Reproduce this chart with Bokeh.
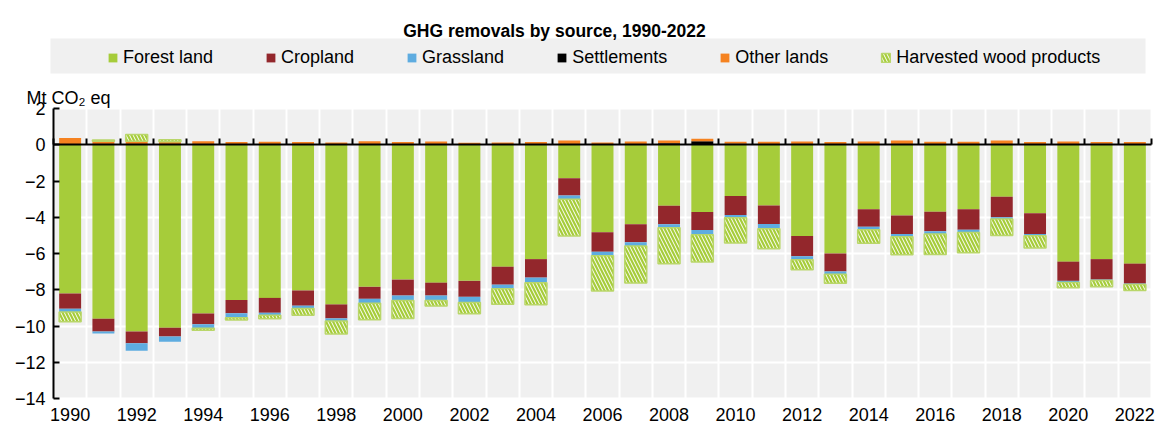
from bokeh.plotting import figure
from bokeh.models import (ColumnDataSource, Range1d, FixedTicker, LinearAxis, Grid,
                          Legend, LegendItem, Label, BoxAnnotation)
from bokeh.embed import file_html
from bokeh.resources import INLINE

years = list(range(1990, 2023))
forest = [-8.21, -9.60, -10.31, -10.09, -9.31, -8.57, -8.45, -8.04, -8.81, -7.84,
          -7.44, -7.61, -7.51, -6.73, -6.31, -1.85, -4.83, -4.39, -3.36, -3.71,
          -2.83, -3.35, -5.03, -6.00, -3.56, -3.91, -3.69, -3.56, -2.87, -3.78,
          -6.45, -6.31, -6.56]
cropland = [-0.84, -0.71, -0.64, -0.49, -0.60, -0.73, -0.82, -0.84, -0.77, -0.66,
            -0.88, -0.71, -0.88, -0.99, -1.02, -0.95, -1.08, -0.99, -1.02, -0.99,
            -1.04, -1.02, -1.12, -0.99, -0.97, -1.01, -1.08, -1.13, -1.13, -1.15,
            -1.06, -1.13, -1.10]
grassland = [-0.18, -0.11, -0.42, -0.29, -0.22, -0.24, -0.13, -0.15, -0.15, -0.24,
             -0.27, -0.27, -0.31, -0.22, -0.29, -0.20, -0.22, -0.20, -0.20, -0.27,
             -0.16, -0.27, -0.20, -0.16, -0.16, -0.16, -0.16, -0.15, -0.09, -0.09,
             -0.09, -0.05, -0.05]
settlements = [0.0, 0.0, 0.0, 0.0, 0.0, 0.0, 0.0, 0.02, 0.0, 0.0,
               0.0, 0.0, 0.0, 0.0, 0.02, 0.0, 0.0, 0.0, 0.08, 0.20,
               0.05, 0.03, 0.0, 0.03, 0.0, 0.0, 0.0, 0.0, 0.0, 0.0,
               0.0, 0.05, 0.0]
other_lands = [0.37, 0.19, 0.20, 0.17, 0.20, 0.15, 0.16, 0.13, 0.13, 0.20,
               0.15, 0.18, 0.11, 0.13, 0.13, 0.24, 0.13, 0.18, 0.15, 0.13,
               0.12, 0.13, 0.18, 0.12, 0.18, 0.24, 0.16, 0.16, 0.24, 0.15,
               0.18, 0.10, 0.15]
hwp = [-0.53, 0.07, 0.37, 0.10, -0.11, -0.13, -0.20, -0.37, -0.71, -0.91,
       -0.99, -0.31, -0.62, -0.86, -1.21, -2.03, -1.94, -2.05, -1.99, -1.50,
       -1.39, -1.10, -0.55, -0.49, -0.75, -0.99, -1.12, -1.12, -0.91, -0.68,
       -0.29, -0.35, -0.33]

series_names = ["Forest land", "Cropland", "Grassland", "Settlements", "Other lands",
                "Harvested wood products"]
series_values = [forest, cropland, grassland, settlements, other_lands, hwp]
series_colors = ["#a6cc3a", "#93272c", "#5eace0", "#000000", "#f58220", "#a6cc3a"]
y_ticks = list(range(-14, 3, 2))
x_label_years = years[::2]
y_lo, y_hi = -14, 2

FONT = "Liberation Sans"
FS = "18px"

# layout: the frame fills the canvas; the plot area spans pixels x 53..1151, y 108..398
W, H = 1155, 425
PX_L, PX_R, PX_T, PX_B = 53, 1151, 108, 398
x_lo, x_hi = years[0] - 0.5, years[-1] + 0.5
xs = (x_hi - x_lo) / (PX_R - PX_L)
ys = (y_hi - y_lo) / (PX_B - PX_T)
x_range = Range1d(x_lo - PX_L * xs, x_hi + (W - PX_R) * xs)
y_range = Range1d(y_lo - (H - PX_B) * ys, y_hi + PX_T * ys)

p = figure(width=W, height=H, output_backend="svg", toolbar_location=None,
           x_range=x_range, y_range=y_range,
           x_axis_location=None, y_axis_location=None, min_border=0,
           background_fill_color="white", border_fill_color="white",
           outline_line_color=None)
p.xgrid.visible = False
p.ygrid.visible = False

# grey plot-area background
p.add_layout(BoxAnnotation(left=x_lo, right=x_hi, bottom=y_lo, top=y_hi,
                           fill_color="#f0f0f0", fill_alpha=1, line_color=None,
                           level="image"))

# grids
bounds = [y - 0.5 for y in years] + [years[-1] + 0.5]
p.add_layout(Grid(dimension=0, ticker=FixedTicker(ticks=bounds),
                  grid_line_color="white", grid_line_width=2))
p.add_layout(Grid(dimension=1, ticker=FixedTicker(ticks=y_ticks),
                  grid_line_color="white", grid_line_width=2))

# stacking (positives up from 0, negatives down from 0)
n = len(years)
pos_base = [0.0] * n
neg_base = [0.0] * n
renderers = []
for name, vals, col in zip(series_names, series_values, series_colors):
    bottoms, tops = [], []
    for i, v in enumerate(vals):
        if v >= 0:
            b = pos_base[i]; t = b + v; pos_base[i] = t
        else:
            b = neg_base[i]; t = b + v; neg_base[i] = t
        bottoms.append(b); tops.append(t)
    src = ColumnDataSource(dict(x=years, bottom=bottoms, top=tops))
    if name == "Harvested wood products":
        r = p.vbar(x="x", bottom="bottom", top="top", width=0.66, source=src,
                   fill_color=col, line_color="#b9d66a", line_width=1.5,
                   hatch_pattern="\\", hatch_color="white", hatch_weight=1.0,
                   hatch_scale=7)
    else:
        r = p.vbar(x="x", bottom="bottom", top="top", width=0.66, source=src,
                   fill_color=col, line_color=None)
    renderers.append((name, r))

# y axis
yax = LinearAxis(fixed_location=x_lo, bounds=(y_lo, y_hi),
                 ticker=FixedTicker(ticks=y_ticks),
                 major_tick_in=6, major_tick_out=0, minor_tick_line_color=None,
                 axis_line_width=2, major_tick_line_width=2,
                 axis_line_color="black", major_tick_line_color="black",
                 major_label_standoff=8, major_label_text_font=FONT,
                 major_label_text_font_size=FS, major_label_text_color="black")
p.add_layout(yax, "left")

# zero line with category boundary ticks (no labels)
zax = LinearAxis(fixed_location=0, bounds=(x_lo, x_hi), ticker=FixedTicker(ticks=bounds),
                 major_tick_in=6, major_tick_out=0, minor_tick_line_color=None,
                 axis_line_width=2, major_tick_line_width=2,
                 axis_line_color="black", major_tick_line_color="black",
                 major_label_text_color=None)
p.add_layout(zax, "below")

# year labels below the plot area
lax = LinearAxis(fixed_location=y_lo, ticker=FixedTicker(ticks=x_label_years),
                 major_tick_in=0, major_tick_out=0, minor_tick_line_color=None,
                 axis_line_color=None, major_tick_line_color=None,
                 major_label_standoff=9, major_label_text_font=FONT,
                 major_label_text_font_size=FS, major_label_text_color="black")
p.add_layout(lax, "below")

# legend band + legend
band = BoxAnnotation(left=50, right=1145, top=H - 38, bottom=H - 73,
                     left_units="screen", right_units="screen",
                     top_units="screen", bottom_units="screen",
                     fill_color="#f0f0f0", fill_alpha=1, line_color=None)
p.add_layout(band)

legend = Legend(items=[LegendItem(label=nm, renderers=[r]) for nm, r in renderers],
                orientation="horizontal", location=(107, H - 68), spacing=52,
                glyph_width=11, glyph_height=11, label_standoff=5, padding=0,
                margin=0, background_fill_alpha=0, border_line_color=None,
                label_text_font=FONT, label_text_font_size=FS,
                label_text_color="black")
p.add_layout(legend)

title = Label(x=554, y=H - 30, x_units="screen", y_units="screen",
              text="GHG removals by source, 1990-2022", text_align="center",
              text_baseline="alphabetic", text_font=FONT, text_font_size="17.5px",
              text_font_style="bold", text_color="black")
p.add_layout(title)

ylab = Label(x=26, y=H - 97, x_units="screen", y_units="screen",
             text="Mt CO\u2082 eq", text_align="left", text_baseline="alphabetic",
             text_font=FONT, text_font_size=FS, text_color="black")
p.add_layout(ylab)

open("out.html", "w").write(file_html(p, INLINE))
